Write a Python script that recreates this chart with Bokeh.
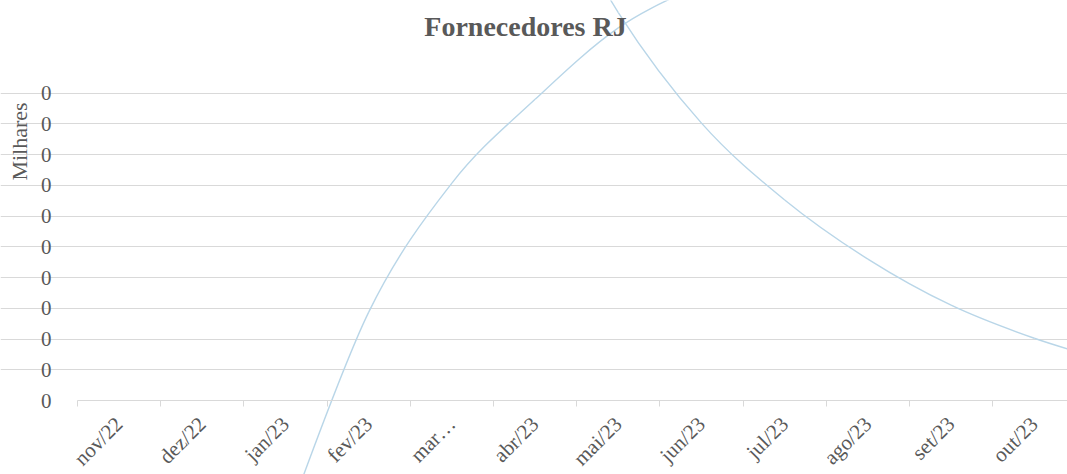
import math
from bokeh.plotting import figure
from bokeh.models import (Range1d, LinearAxis, FixedTicker, NumeralTickFormatter,
                          Grid, Label, ColumnDataSource)
from bokeh.embed import file_html
from bokeh.resources import INLINE

# ---------------- data ----------------
categorias = ["nov/22", "dez/22", "jan/23", "fev/23", "mar/23", "abr/23", "mai/23",
              "jun/23", "jul/23", "ago/23", "set/23", "out/23", "nov/23"]
rotulos_x = ["nov/22", "dez/22", "jan/23", "fev/23", "mar…", "abr/23", "mai/23",
             "jun/23", "jul/23", "ago/23", "set/23", "out/23", "nov/23"]
# values in thousands (Milhares)
serie_a = [None, None, -0.16, 0.115, 0.283, 0.392, 0.485, 0.542, 0.59,
           None, None, None, None]
serie_b = [None, None, None, None, None, 0.70, 0.505, 0.361, 0.261,
           0.184, 0.124, 0.081, 0.048]
ticks_y = [0, 0.04, 0.08, 0.12, 0.16, 0.2, 0.24, 0.28, 0.32, 0.36, 0.4]
titulo = "Fornecedores RJ"
titulo_eixo_y = "Milhares"

# ---------------- styles ----------------
FONT = "Liberation Serif"
TXT = "#595959"
GRID = "#d9d9d9"
LINE = "#b9d6e8"

W, H = 1067, 474
PX_X = 83.2      # pixels per category
PX_Y = 768.3     # pixels per thousand
x_start = -77 / PX_X
y_top = 400 / PX_Y

p = figure(width=W, height=H, output_backend="svg", toolbar_location=None,
           x_range=Range1d(x_start, x_start + W / PX_X),
           y_range=Range1d(y_top - H / PX_Y, y_top),
           x_axis_type=None, y_axis_type=None, min_border=0,
           outline_line_color=None, background_fill_color="white",
           border_fill_color="white")

n = len(categorias)
centros = [i + 0.5 for i in range(n)]
limites = [float(i) for i in range(n + 1)]

# gridlines
grid = Grid(dimension=1, ticker=FixedTicker(ticks=ticks_y[1:]), bounds=(0, n),
            grid_line_color=GRID, grid_line_width=1)
p.add_layout(grid)

# y axis
yaxis = LinearAxis(fixed_location=0, ticker=FixedTicker(ticks=ticks_y),
                   formatter=NumeralTickFormatter(format="0"),
                   axis_line_color=None, major_tick_line_color=None,
                   minor_tick_line_color=None, major_tick_in=0, major_tick_out=0,
                   major_label_standoff=26,
                   major_label_text_font=FONT, major_label_text_font_size="21px",
                   major_label_text_color=TXT)
p.add_layout(yaxis, "left")

# x axis
xaxis = LinearAxis(fixed_location=0,
                   ticker=FixedTicker(ticks=centros, minor_ticks=limites),
                   major_label_overrides={c: r for c, r in zip(centros, rotulos_x)},
                   bounds=(0, n),
                   axis_line_color=GRID, axis_line_width=1,
                   major_tick_line_color=None, major_tick_in=0, major_tick_out=0,
                   minor_tick_line_color=GRID, minor_tick_in=0, minor_tick_out=6,
                   major_label_orientation=math.pi / 4, major_label_standoff=14,
                   major_label_text_font=FONT, major_label_text_font_size="21px",
                   major_label_text_color=TXT)
p.add_layout(xaxis, "below")


def segmentos(vals):
    d = dict(x0=[], y0=[], x1=[], y1=[], cx0=[], cy0=[], cx1=[], cy1=[])
    m = len(vals)
    for i in range(m - 1):
        if vals[i] is None or vals[i + 1] is None:
            continue
        a = i - 1 if i - 1 >= 0 and vals[i - 1] is not None else i
        b = i + 2 if i + 2 < m and vals[i + 2] is not None else i + 1
        xa, ya = centros[i], vals[i]
        xb, yb = centros[i + 1], vals[i + 1]
        d["x0"].append(xa); d["y0"].append(ya)
        d["x1"].append(xb); d["y1"].append(yb)
        d["cx0"].append(xa + (xb - centros[a]) / 6)
        d["cy0"].append(ya + (yb - vals[a]) / 6)
        d["cx1"].append(xb - (centros[b] - xa) / 6)
        d["cy1"].append(yb - (vals[b] - ya) / 6)
    return ColumnDataSource(d)


for serie in (serie_a, serie_b):
    p.bezier(x0="x0", y0="y0", x1="x1", y1="y1", cx0="cx0", cy0="cy0",
             cx1="cx1", cy1="cy1", source=segmentos(serie),
             line_color=LINE, line_width=1.4)

# title and axis title
p.add_layout(Label(x=(525 - 77) / PX_X, y=(400 - 26) / PX_Y, text=titulo,
                   text_align="center", text_baseline="alphabetic",
                   text_font=FONT, text_font_style="bold", text_font_size="28px",
                   text_color=TXT))
p.add_layout(Label(x=(19 - 77) / PX_X, y=(400 - 141) / PX_Y, text=titulo_eixo_y,
                   angle=math.pi / 2, text_align="center", text_baseline="middle",
                   text_font=FONT, text_font_size="22px", text_color=TXT))

open("out.html", "w").write(file_html(p, INLINE))
